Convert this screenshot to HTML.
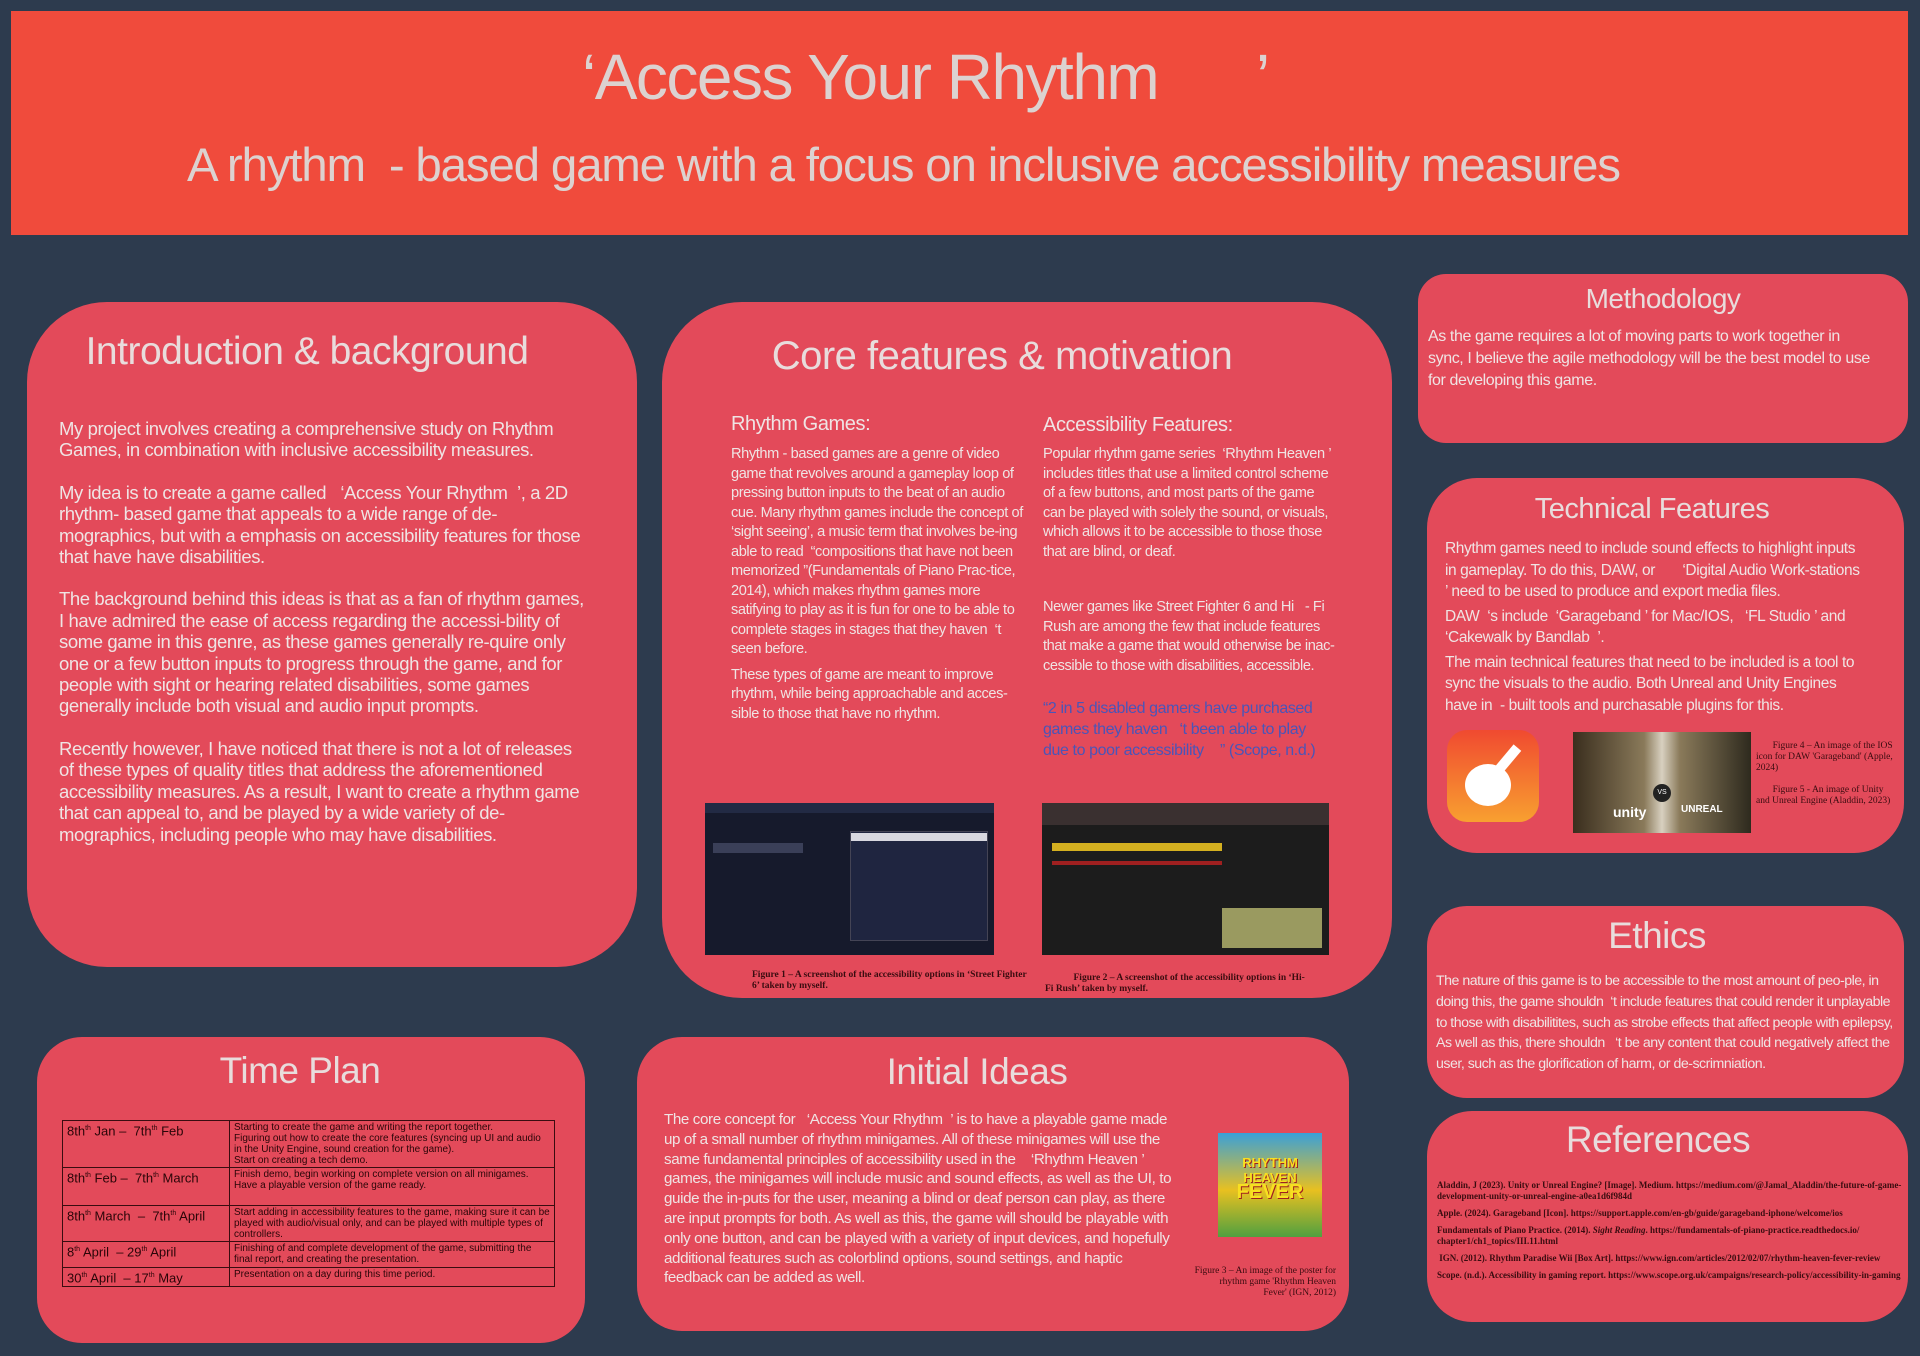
<!DOCTYPE html>
<html><head><meta charset="utf-8"><style>
*{margin:0;padding:0;box-sizing:border-box}
body{width:1920px;height:1356px;background:#2d3b4e;position:relative;overflow:hidden;font-family:"Liberation Sans",sans-serif;color:#efe4e4}
.a{position:absolute}
.p{position:absolute;background:#e34a5a}
h2{position:absolute;font-weight:normal;color:#e8dcdc;text-align:center;letter-spacing:-0.5px}
.t{position:absolute;letter-spacing:-0.4px}
.t p{margin-bottom:10px}
.cap{position:absolute;font-family:"Liberation Serif",serif;font-size:9.5px;color:#3a0c10;line-height:11px;font-weight:bold}
table{border-collapse:collapse;font-size:10px;color:#2a0508}
td{border:1.5px solid #3a0c10;vertical-align:top;padding:1px 4px;line-height:11px}
td.d{font-size:13px;line-height:14px;width:167px}
.ref{font-family:"Liberation Serif",serif;font-size:9px;color:#3a0c10;line-height:11px;margin-bottom:6px;font-weight:bold}
</style></head><body>
<div class="a" style="left:11px;top:11px;width:1897px;height:224px;background:#f04b3c"></div>
<div class="a" style="left:582px;top:40px;white-space:nowrap;font-size:64px;color:#dcd2d0;letter-spacing:-1.5px">‘Access Your Rhythm&nbsp;&nbsp;&nbsp;&nbsp;&nbsp;&nbsp;’</div>
<div class="a" style="left:187px;top:138px;white-space:nowrap;font-size:47.5px;color:#dcd2d0;letter-spacing:-1.2px">A rhythm&nbsp; - based game with a focus on inclusive accessibility measures</div>

<!-- Intro -->
<div class="p" style="left:27px;top:302px;width:610px;height:665px;border-radius:80px"></div>
<h2 style="left:27px;top:330px;width:560px;font-size:39px">Introduction &amp; background</h2>
<div class="t" style="left:59px;top:418px;width:530px;font-size:18.5px;line-height:21.4px">
<p style="margin-bottom:21px">My project involves creating a comprehensive study on Rhythm Games, in combination with inclusive accessibility measures.</p>
<p style="margin-bottom:21px">My idea is to create a game called&nbsp;&nbsp; ‘Access Your Rhythm&nbsp; ’, a 2D rhythm- based game that appeals to a wide range of de-mographics, but with a emphasis on accessibility features for those that have have disabilities.</p>
<p style="margin-bottom:21px">The background behind this ideas is that as a fan of rhythm games, I have admired the ease of access regarding the accessi-bility of some game in this genre, as these games generally re-quire only one or a few button inputs to progress through the game, and for people with sight or hearing related disabilities, some games generally include both visual and audio input prompts.</p>
<p>Recently however, I have noticed that there is not a lot of releases of these types of quality titles that address the aforementioned accessibility measures. As a result, I want to create a rhythm game that can appeal to, and be played by a wide variety of de-mographics, including people who may have disabilities.</p>
</div>

<!-- Core -->
<div class="p" style="left:662px;top:302px;width:730px;height:696px;border-radius:80px"></div>
<h2 style="left:662px;top:334px;width:680px;font-size:40px">Core features &amp; motivation</h2>
<div class="t" style="left:731px;top:413px;font-size:20px">Rhythm Games:</div>
<div class="t" style="left:731px;top:445px;width:295px;font-size:14.6px;line-height:19.5px">
<p style="margin-bottom:6px">Rhythm - based games are a genre of video game that revolves around a gameplay loop of pressing button inputs to the beat of an audio cue. Many rhythm games include the concept of ‘sight seeing’, a music term that involves be-ing able to read&nbsp; “compositions that have not been memorized ”(Fundamentals of Piano Prac-tice, 2014), which makes rhythm games more satifying to play as it is fun for one to be able to complete stages in stages that they haven&nbsp; ‘t seen before.</p>
<p>These types of game are meant to improve rhythm, while being approachable and acces-sible to those that have no rhythm.</p>
</div>
<div class="t" style="left:1043px;top:414px;font-size:20px">Accessibility Features:</div>
<div class="t" style="left:1043px;top:445px;width:292px;font-size:14.6px;line-height:19.5px">
<p style="margin-bottom:36px">Popular rhythm game series&nbsp; ‘Rhythm Heaven ’ includes titles that use a limited control scheme of a few buttons, and most parts of the game can be played with solely the sound, or visuals, which allows it to be accessible to those those that are blind, or deaf.</p>
<p style="margin-bottom:22px">Newer games like Street Fighter 6 and Hi&nbsp;&nbsp; - Fi Rush are among the few that include features that make a game that would otherwise be inac-cessible to those with disabilities, accessible.</p>
<p style="color:#4a55b8;font-size:16px;line-height:21px;width:280px">“2 in 5 disabled gamers have purchased games they haven&nbsp;&nbsp; ‘t been able to play due to poor accessibility&nbsp;&nbsp;&nbsp; ” (Scope, n.d.)</p>
</div>
<div class="a" style="left:705px;top:803px;width:289px;height:152px;background:#161a2c">
 <div class="a" style="left:0;top:0;width:289px;height:10px;background:#222a44"></div>
 <div class="a" style="left:8px;top:40px;width:90px;height:10px;background:#3a3f58"></div>
 <div class="a" style="left:145px;top:28px;width:138px;height:110px;background:#1f2540;border:1px solid #445"></div>
 <div class="a" style="left:146px;top:30px;width:136px;height:8px;background:#d8d8e0"></div>
</div>
<div class="a" style="left:1042px;top:803px;width:287px;height:152px;background:#1c1c1c">
 <div class="a" style="left:0;top:0;width:287px;height:22px;background:#3a3030"></div>
 <div class="a" style="left:10px;top:40px;width:170px;height:8px;background:#d4b020"></div>
 <div class="a" style="left:10px;top:58px;width:170px;height:4px;background:#a02020"></div>
 <div class="a" style="left:180px;top:105px;width:100px;height:40px;background:#9a9a60"></div>
</div>
<div class="cap" style="left:752px;top:970px;width:280px">Figure 1 – A screenshot of the accessibility options in ‘Street Fighter 6’ taken by myself.</div>
<div class="cap" style="left:1045px;top:973px;width:260px">&nbsp;&nbsp;&nbsp;&nbsp;&nbsp;&nbsp;&nbsp;&nbsp;&nbsp;&nbsp;&nbsp;&nbsp;Figure 2 – A screenshot of the accessibility options in ‘Hi-Fi Rush’ taken by myself.</div>

<!-- Methodology -->
<div class="p" style="left:1418px;top:274px;width:490px;height:169px;border-radius:28px"></div>
<h2 style="left:1418px;top:283px;width:490px;font-size:28px">Methodology</h2>
<div class="t" style="left:1428px;top:326px;width:450px;font-size:16px;line-height:22px">As the game requires a lot of moving parts to work together in sync, I believe the agile methodology will be the best model to use for developing this game.</div>

<!-- Technical -->
<div class="p" style="left:1427px;top:478px;width:477px;height:375px;border-radius:50px"></div>
<h2 style="left:1427px;top:493px;width:450px;font-size:29px">Technical Features</h2>
<div class="t" style="left:1445px;top:538px;width:420px;font-size:15.5px;line-height:21.5px">
<p style="margin-bottom:3px">Rhythm games need to include sound effects to highlight inputs in gameplay. To do this, DAW, or&nbsp;&nbsp;&nbsp;&nbsp;&nbsp;&nbsp; ‘Digital Audio Work-stations ’ need to be used to produce and export media files.</p>
<p style="margin-bottom:3px">DAW&nbsp; ‘s include&nbsp; ‘Garageband ’ for Mac/IOS,&nbsp;&nbsp; ‘FL Studio ’ and ‘Cakewalk by Bandlab&nbsp; ’.</p>
<p>The main technical features that need to be included is a tool to sync the visuals to the audio. Both Unreal and Unity Engines have in&nbsp; - built tools and purchasable plugins for this.</p>
</div>
<div class="a" style="left:1447px;top:730px;width:92px;height:92px;border-radius:20px;background:linear-gradient(#f04a30,#f8a030)">
 <div class="a" style="left:18px;top:34px;width:46px;height:42px;border-radius:50%;background:#fff"></div>
 <div class="a" style="left:50px;top:12px;width:10px;height:48px;background:#fff;transform:rotate(40deg)"></div>
</div>
<div class="a" style="left:1573px;top:732px;width:178px;height:101px;background:linear-gradient(90deg,#3a2e1e,#8a7a5a 40%,#d8d0c0 50%,#8a7a5a 60%,#2e2a1e)">
 <div class="a" style="left:40px;top:72px;font-size:14px;color:#fff;font-weight:bold">unity</div>
 <div class="a" style="left:80px;top:52px;width:18px;height:18px;border-radius:50%;background:#222;color:#fff;font-size:7px;text-align:center;line-height:18px">VS</div>
 <div class="a" style="left:108px;top:72px;font-size:10px;color:#fff;font-weight:bold">UNREAL</div>
</div>
<div class="cap" style="left:1756px;top:741px;width:140px;font-weight:normal">&nbsp;&nbsp;&nbsp;&nbsp;&nbsp;&nbsp;&nbsp;Figure 4 – An image of the IOS icon for DAW 'Garageband' (Apple, 2024)</div>
<div class="cap" style="left:1756px;top:785px;width:140px;font-weight:normal">&nbsp;&nbsp;&nbsp;&nbsp;&nbsp;&nbsp;&nbsp;Figure 5 - An image of Unity and Unreal Engine (Aladdin, 2023)</div>

<!-- Ethics -->
<div class="p" style="left:1427px;top:906px;width:477px;height:192px;border-radius:40px"></div>
<h2 style="left:1427px;top:915px;width:460px;font-size:37px">Ethics</h2>
<div class="t" style="left:1436px;top:971px;width:460px;font-size:14.2px;line-height:20.8px;letter-spacing:-0.5px">The nature of this game is to be accessible to the most amount of peo-ple, in doing this, the game shouldn&nbsp; ‘t include features that could render it unplayable to those with disabilitites, such as strobe effects that affect people with epilepsy, As well as this, there shouldn&nbsp;&nbsp; ‘t be any content that could negatively affect the user, such as the glorification of harm, or de-scrimniation.</div>

<!-- References -->
<div class="p" style="left:1427px;top:1111px;width:481px;height:211px;border-radius:45px"></div>
<h2 style="left:1427px;top:1119px;width:462px;font-size:37px">References</h2>
<div class="a" style="left:1437px;top:1180px;width:465px">
<div class="ref">Aladdin, J (2023). Unity or Unreal Engine? [Image]. Medium. https://medium.com/@Jamal_Aladdin/the-future-of-game-development-unity-or-unreal-engine-a0ea1d6f984d</div>
<div class="ref">Apple. (2024). Garageband [Icon]. https://support.apple.com/en-gb/guide/garageband-iphone/welcome/ios</div>
<div class="ref">Fundamentals of Piano Practice. (2014). <i>Sight Reading</i>. https://fundamentals-of-piano-practice.readthedocs.io/ chapter1/ch1_topics/III.11.html</div>
<div class="ref">&nbsp;IGN. (2012). Rhythm Paradise Wii [Box Art]. https://www.ign.com/articles/2012/02/07/rhythm-heaven-fever-review</div>
<div class="ref">Scope. (n.d.). Accessibility in gaming report. https://www.scope.org.uk/campaigns/research-policy/accessibility-in-gaming</div>
</div>

<!-- Time plan -->
<div class="p" style="left:37px;top:1037px;width:548px;height:306px;border-radius:45px"></div>
<h2 style="left:37px;top:1050px;width:526px;font-size:37px">Time Plan</h2>
<table class="a" style="left:62px;top:1120px;width:493px">
<tr style="height:47px"><td class="d">8th<sup style="font-size:7px">th</sup> Jan –&nbsp; 7th<sup style="font-size:7px">th</sup> Feb</td><td>Starting to create the game and writing the report together.<br>Figuring out how to create the core features (syncing up UI and audio in the Unity Engine, sound creation for the game).<br>Start on creating a tech demo.</td></tr>
<tr style="height:38px"><td class="d">8th<sup style="font-size:7px">th</sup> Feb –&nbsp; 7th<sup style="font-size:7px">th</sup> March</td><td>Finish demo, begin working on complete version on all minigames.<br>Have a playable version of the game ready.</td></tr>
<tr style="height:36px"><td class="d">8th<sup style="font-size:7px">th</sup> March&nbsp; –&nbsp; 7th<sup style="font-size:7px">th</sup> April</td><td>Start adding in accessibility features to the game, making sure it can be played with audio/visual only, and can be played with multiple types of controllers.</td></tr>
<tr style="height:26px"><td class="d">8<sup style="font-size:7px">th</sup> April&nbsp; – 29<sup style="font-size:7px">th</sup> April</td><td>Finishing of and complete development of the game, submitting the final report, and creating the presentation.</td></tr>
<tr style="height:18px"><td class="d">30<sup style="font-size:7px">th</sup> April&nbsp; – 17<sup style="font-size:7px">th</sup> May</td><td>Presentation on a day during this time period.</td></tr>
</table>

<!-- Initial ideas -->
<div class="p" style="left:637px;top:1037px;width:712px;height:294px;border-radius:45px"></div>
<h2 style="left:637px;top:1051px;width:680px;font-size:37px">Initial Ideas</h2>
<div class="t" style="left:664px;top:1110px;width:510px;font-size:15.2px;line-height:19.8px">The core concept for&nbsp;&nbsp; ‘Access Your Rhythm&nbsp; ’ is to have a playable game made up of a small number of rhythm minigames. All of these minigames will use the same fundamental principles of accessibility used in the&nbsp;&nbsp;&nbsp; ‘Rhythm Heaven ’ games, the minigames will include music and sound effects, as well as the UI, to guide the in-puts for the user, meaning a blind or deaf person can play, as there are input prompts for both. As well as this, the game will should be playable with only one button, and can be played with a variety of input devices, and hopefully additional features such as colorblind options, sound settings, and haptic feedback can be added as well.</div>
<div class="a" style="left:1218px;top:1133px;width:104px;height:104px;background:linear-gradient(#3aa0d8,#e8c020 55%,#50a040)">
 <div class="a" style="left:4px;top:22px;width:96px;text-align:center;font-size:13px;font-weight:bold;color:#f8e020;line-height:15px;text-shadow:1px 1px 0 #a02020">RHYTHM HEAVEN<br><span style="font-size:20px">FEVER</span></div>
</div>
<div class="cap" style="left:1194px;top:1266px;width:142px;font-weight:normal;text-align:right">Figure 3 – An image of the poster for rhythm game 'Rhythm Heaven Fever' (IGN, 2012)</div>
</body></html>
